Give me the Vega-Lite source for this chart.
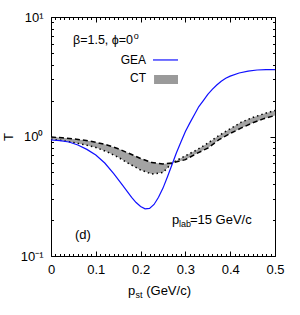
{
  "$schema": "https://vega.github.io/schema/vega-lite/v6.json",
  "width": 224,
  "height": 239,
  "autosize": "none",
  "padding": {"left": 51, "top": 17, "right": 25, "bottom": 59},
  "config": {"font": "Liberation Sans", "view": {"stroke": "black", "strokeWidth": 1}, "axis": {"grid": false, "domain": false, "tickColor": "black", "labelColor": "black", "titleColor": "black"}},
  "resolve": {"axis": {"x": "independent", "y": "independent"}},
  "datasets": {
    "gea": [
      {"p": 0, "T": 0.935}, {"p": 0.02, "T": 0.925}, {"p": 0.04, "T": 0.9}, {"p": 0.06, "T": 0.85},
      {"p": 0.08, "T": 0.78}, {"p": 0.1, "T": 0.7}, {"p": 0.12, "T": 0.6}, {"p": 0.14, "T": 0.49},
      {"p": 0.16, "T": 0.39}, {"p": 0.18, "T": 0.31}, {"p": 0.19, "T": 0.28}, {"p": 0.2, "T": 0.26},
      {"p": 0.21, "T": 0.248}, {"p": 0.22, "T": 0.25}, {"p": 0.23, "T": 0.27}, {"p": 0.24, "T": 0.31},
      {"p": 0.25, "T": 0.37}, {"p": 0.26, "T": 0.46}, {"p": 0.27, "T": 0.58}, {"p": 0.28, "T": 0.73},
      {"p": 0.29, "T": 0.9}, {"p": 0.3, "T": 1.1}, {"p": 0.31, "T": 1.3}, {"p": 0.32, "T": 1.52},
      {"p": 0.33, "T": 1.78}, {"p": 0.34, "T": 2.0}, {"p": 0.35, "T": 2.25}, {"p": 0.36, "T": 2.48},
      {"p": 0.37, "T": 2.7}, {"p": 0.38, "T": 2.9}, {"p": 0.39, "T": 3.07}, {"p": 0.4, "T": 3.2},
      {"p": 0.42, "T": 3.4}, {"p": 0.44, "T": 3.52}, {"p": 0.46, "T": 3.6}, {"p": 0.48, "T": 3.63},
      {"p": 0.5, "T": 3.63}
    ],
    "ct": [
      {"p": 0, "a": 0.99, "b": 0.95}, {"p": 0.025, "a": 0.975, "b": 0.925}, {"p": 0.05, "a": 0.955, "b": 0.89},
      {"p": 0.075, "a": 0.93, "b": 0.855}, {"p": 0.1, "a": 0.895, "b": 0.81}, {"p": 0.125, "a": 0.85, "b": 0.745},
      {"p": 0.15, "a": 0.79, "b": 0.67}, {"p": 0.175, "a": 0.72, "b": 0.59}, {"p": 0.2, "a": 0.655, "b": 0.525},
      {"p": 0.225, "a": 0.605, "b": 0.485}, {"p": 0.25, "a": 0.59, "b": 0.5}, {"p": 0.27, "a": 0.6, "b": 0.6},
      {"p": 0.3, "a": 0.64, "b": 0.69}, {"p": 0.325, "a": 0.72, "b": 0.77}, {"p": 0.35, "a": 0.8, "b": 0.88},
      {"p": 0.375, "a": 0.94, "b": 1.02}, {"p": 0.4, "a": 1.06, "b": 1.16}, {"p": 0.425, "a": 1.18, "b": 1.32},
      {"p": 0.45, "a": 1.3, "b": 1.44}, {"p": 0.475, "a": 1.41, "b": 1.55}, {"p": 0.5, "a": 1.5, "b": 1.65}
    ]
  },
  "layer": [
    {
      "data": {"name": "ct"},
      "mark": {"type": "area", "color": "#a3a3a3"},
      "encoding": {
        "x": {"field": "p", "type": "quantitative", "scale": {"domain": [0, 0.5], "nice": false, "zero": false},
              "axis": {"orient": "bottom", "values": [0, 0.1, 0.2, 0.3, 0.4, 0.5], "ticks": false, "labelPadding": 7, "labelFontSize": 13, "title": null, "labelFlush": false, "labelExpr": "datum.value == 0 ? '0' : format(datum.value, '.1f')"}},
        "y": {"field": "a", "type": "quantitative", "scale": {"type": "log", "domain": [0.1, 10], "nice": false},
              "axis": {"orient": "left", "values": [0.1, 1, 10], "ticks": false, "labelPadding": 8, "labelFontSize": 13, "title": "T", "titleFontSize": 13, "titleFontWeight": "normal", "titlePadding": 5, "labelExpr": "datum.value >= 5 ? '10¹' : datum.value >= 0.5 ? '10⁰' : '10⁻¹'"}},
        "y2": {"field": "b"}
      }
    },
    {
      "data": {"name": "ct"},
      "mark": {"type": "line", "color": "black", "strokeWidth": 1.5, "strokeDash": [5, 3]},
      "encoding": {
        "x": {"field": "p", "type": "quantitative", "scale": {"domain": [0, 0.5], "nice": false, "zero": false},
              "axis": {"orient": "top", "values": [0, 0.1, 0.2, 0.3, 0.4, 0.5], "labels": false, "tickSize": -5, "title": null}},
        "y": {"field": "a", "type": "quantitative", "scale": {"type": "log", "domain": [0.1, 10], "nice": false},
              "axis": {"orient": "right", "values": [0.1, 1, 10], "labels": false, "tickSize": -5, "title": null}}
      }
    },
    {
      "data": {"name": "ct"},
      "mark": {"type": "line", "color": "black", "strokeWidth": 1.5, "strokeDash": [1.5, 3]},
      "encoding": {
        "x": {"field": "p", "type": "quantitative", "scale": {"domain": [0, 0.5], "nice": false, "zero": false},
              "axis": {"orient": "bottom", "values": [0, 0.1, 0.2, 0.3, 0.4, 0.5], "labels": false, "tickSize": -5, "title": null}},
        "y": {"field": "b", "type": "quantitative", "scale": {"type": "log", "domain": [0.1, 10], "nice": false},
              "axis": {"orient": "left", "values": [0.1, 1, 10], "labels": false, "tickSize": -5, "title": null}}
      }
    },
    {
      "data": {"name": "gea"},
      "mark": {"type": "line", "color": "#1010ff", "strokeWidth": 1.2},
      "encoding": {
        "x": {"field": "p", "type": "quantitative", "scale": {"domain": [0, 0.5], "nice": false, "zero": false},
              "axis": {"orient": "bottom", "values": [0.01,0.02,0.03,0.04,0.05,0.06,0.07,0.08,0.09,0.11,0.12,0.13,0.14,0.15,0.16,0.17,0.18,0.19,0.21,0.22,0.23,0.24,0.25,0.26,0.27,0.28,0.29,0.31,0.32,0.33,0.34,0.35,0.36,0.37,0.38,0.39,0.41,0.42,0.43,0.44,0.45,0.46,0.47,0.48,0.49], "labels": false, "tickSize": -2.5, "title": null}},
        "y": {"field": "T", "type": "quantitative", "scale": {"type": "log", "domain": [0.1, 10], "nice": false},
              "axis": {"orient": "left", "values": [0.2,0.3,0.4,0.5,0.6,0.7,0.8,0.9,2,3,4,5,6,7,8,9], "labels": false, "tickSize": -2.5, "title": null}}
      }
    },
    {
      "data": {"values": [{}]},
      "mark": {"type": "rule", "color": "#1010ff", "strokeWidth": 1.2},
      "encoding": {
        "x": {"datum": 0.2277, "type": "quantitative", "scale": {"domain": [0, 0.5], "nice": false, "zero": false},
              "axis": {"orient": "top", "values": [0.01,0.02,0.03,0.04,0.05,0.06,0.07,0.08,0.09,0.11,0.12,0.13,0.14,0.15,0.16,0.17,0.18,0.19,0.21,0.22,0.23,0.24,0.25,0.26,0.27,0.28,0.29,0.31,0.32,0.33,0.34,0.35,0.36,0.37,0.38,0.39,0.41,0.42,0.43,0.44,0.45,0.46,0.47,0.48,0.49], "labels": false, "tickSize": -2.5, "title": null}},
        "x2": {"datum": 0.2835},
        "y": {"datum": 4.37, "type": "quantitative", "scale": {"type": "log", "domain": [0.1, 10], "nice": false},
              "axis": {"orient": "right", "values": [0.2,0.3,0.4,0.5,0.6,0.7,0.8,0.9,2,3,4,5,6,7,8,9], "labels": false, "tickSize": -2.5, "title": null}}
      }
    },
    {
      "data": {"values": [{}]},
      "mark": {"type": "rect", "color": "#9a9a9a"},
      "encoding": {
        "x": {"datum": 0.23, "type": "quantitative", "scale": {"domain": [0, 0.5], "nice": false, "zero": false}, "axis": null},
        "x2": {"datum": 0.2835},
        "y": {"datum": 3.27, "type": "quantitative", "scale": {"type": "log", "domain": [0.1, 10], "nice": false}, "axis": null},
        "y2": {"datum": 2.75}
      }
    },
    {
      "data": {"values": [{}]},
      "mark": {"type": "text", "text": "β=1.5, ϕ=0", "fontSize": 12.5, "align": "left", "baseline": "alphabetic", "color": "black"},
      "encoding": {
        "x": {"datum": 0.0491, "type": "quantitative", "scale": {"domain": [0, 0.5], "nice": false, "zero": false}, "axis": null},
        "y": {"datum": 5.94, "type": "quantitative", "scale": {"type": "log", "domain": [0.1, 10], "nice": false}, "axis": null}
      }
    },
    {
      "data": {"values": [{}]},
      "mark": {"type": "text", "text": "o", "fontSize": 9, "align": "left", "baseline": "alphabetic", "dy": -5, "color": "black"},
      "encoding": {
        "x": {"datum": 0.1845, "type": "quantitative", "scale": {"domain": [0, 0.5], "nice": false, "zero": false}, "axis": null},
        "y": {"datum": 5.94, "type": "quantitative", "scale": {"type": "log", "domain": [0.1, 10], "nice": false}, "axis": null}
      }
    },
    {
      "data": {"values": [{}]},
      "mark": {"type": "text", "text": "GEA", "fontSize": 12, "align": "right", "baseline": "alphabetic", "color": "black"},
      "encoding": {
        "x": {"datum": 0.2121, "type": "quantitative", "scale": {"domain": [0, 0.5], "nice": false, "zero": false}, "axis": null},
        "y": {"datum": 4.044, "type": "quantitative", "scale": {"type": "log", "domain": [0.1, 10], "nice": false}, "axis": null}
      }
    },
    {
      "data": {"values": [{}]},
      "mark": {"type": "text", "text": "CT", "fontSize": 12, "align": "right", "baseline": "alphabetic", "color": "black"},
      "encoding": {
        "x": {"datum": 0.2121, "type": "quantitative", "scale": {"domain": [0, 0.5], "nice": false, "zero": false}, "axis": null},
        "y": {"datum": 2.858, "type": "quantitative", "scale": {"type": "log", "domain": [0.1, 10], "nice": false}, "axis": null}
      }
    },
    {
      "data": {"values": [{}]},
      "mark": {"type": "text", "text": "(d)", "fontSize": 13, "align": "left", "baseline": "alphabetic", "color": "black"},
      "encoding": {
        "x": {"datum": 0.0536, "type": "quantitative", "scale": {"domain": [0, 0.5], "nice": false, "zero": false}, "axis": null},
        "y": {"datum": 0.1388, "type": "quantitative", "scale": {"type": "log", "domain": [0.1, 10], "nice": false}, "axis": null}
      }
    },
    {
      "data": {"values": [{}]},
      "mark": {"type": "text", "text": "p", "fontSize": 13, "align": "left", "baseline": "alphabetic", "color": "black"},
      "encoding": {
        "x": {"datum": 0.2701, "type": "quantitative", "scale": {"domain": [0, 0.5], "nice": false, "zero": false}, "axis": null},
        "y": {"datum": 0.1853, "type": "quantitative", "scale": {"type": "log", "domain": [0.1, 10], "nice": false}, "axis": null}
      }
    },
    {
      "data": {"values": [{}]},
      "mark": {"type": "text", "text": "lab", "fontSize": 9, "align": "left", "baseline": "alphabetic", "dy": 3, "color": "black"},
      "encoding": {
        "x": {"datum": 0.2857, "type": "quantitative", "scale": {"domain": [0, 0.5], "nice": false, "zero": false}, "axis": null},
        "y": {"datum": 0.1853, "type": "quantitative", "scale": {"type": "log", "domain": [0.1, 10], "nice": false}, "axis": null}
      }
    },
    {
      "data": {"values": [{}]},
      "mark": {"type": "text", "text": "=15 GeV/c", "fontSize": 13, "align": "left", "baseline": "alphabetic", "color": "black"},
      "encoding": {
        "x": {"datum": 0.31, "type": "quantitative", "scale": {"domain": [0, 0.5], "nice": false, "zero": false}, "axis": null},
        "y": {"datum": 0.1853, "type": "quantitative", "scale": {"type": "log", "domain": [0.1, 10], "nice": false}, "axis": null}
      }
    },
    {
      "data": {"values": [{}]},
      "mark": {"type": "text", "text": "p", "fontSize": 13, "align": "left", "baseline": "alphabetic", "color": "black"},
      "encoding": {
        "x": {"datum": 0.1719, "type": "quantitative", "scale": {"domain": [0, 0.5], "nice": false, "zero": false}, "axis": null},
        "y": {"datum": 0.04717, "type": "quantitative", "scale": {"type": "log", "domain": [0.1, 10], "nice": false}, "axis": null}
      }
    },
    {
      "data": {"values": [{}]},
      "mark": {"type": "text", "text": "st", "fontSize": 9, "align": "left", "baseline": "alphabetic", "dy": 3, "color": "black"},
      "encoding": {
        "x": {"datum": 0.1886, "type": "quantitative", "scale": {"domain": [0, 0.5], "nice": false, "zero": false}, "axis": null},
        "y": {"datum": 0.04717, "type": "quantitative", "scale": {"type": "log", "domain": [0.1, 10], "nice": false}, "axis": null}
      }
    },
    {
      "data": {"values": [{}]},
      "mark": {"type": "text", "text": "(GeV/c)", "fontSize": 13, "align": "left", "baseline": "alphabetic", "color": "black"},
      "encoding": {
        "x": {"datum": 0.2125, "type": "quantitative", "scale": {"domain": [0, 0.5], "nice": false, "zero": false}, "axis": null},
        "y": {"datum": 0.04717, "type": "quantitative", "scale": {"type": "log", "domain": [0.1, 10], "nice": false}, "axis": null}
      }
    }
  ]
}
